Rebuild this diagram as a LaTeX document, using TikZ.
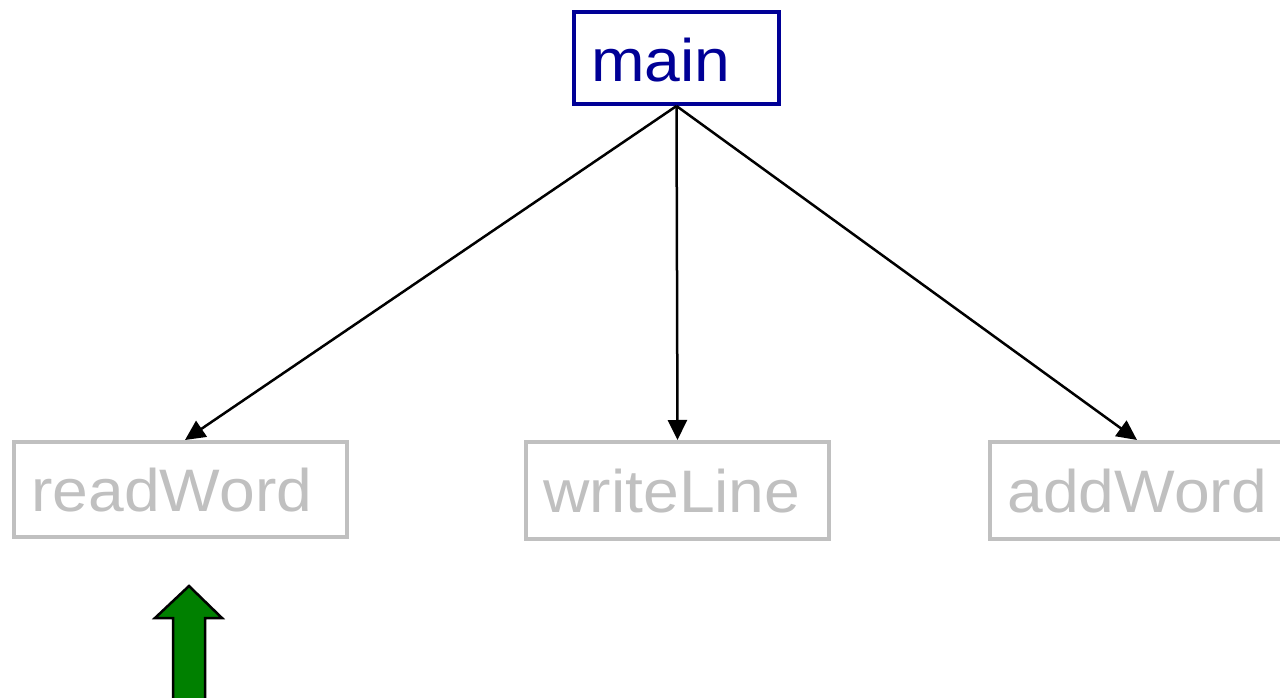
\documentclass[tikz,border=0pt]{standalone}
\usepackage{fontspec}
\newfontfamily\lab[FakeStretch=1.07]{Liberation Sans}
\usetikzlibrary{arrows.meta}
\definecolor{navyb}{RGB}{0,0,150}
\definecolor{boxgray}{RGB}{192,192,192}
\definecolor{arrgreen}{RGB}{0,128,0}
\begin{document}
\begin{tikzpicture}[x=1pt,y=-1pt,
  fbox/.style={draw=boxgray, text=boxgray, line width=4pt, inner xsep=17.5pt, inner ysep=0pt,
    text height=44pt, text depth=0pt, font=\lab\fontsize{60}{60}\selectfont},
  mbox/.style={fbox, draw=navyb, text=navyb, text height=48pt},
  conn/.style={draw=black, line width=2.5pt, -{Triangle[length=20pt,width=19pt]}},
  greenarrow/.style={fill=arrgreen, draw=black, line width=2.5pt, line join=miter}]
\useasboundingbox (0,0) rectangle (1280,698);
\clip (0,0) rectangle (1280,698);
\node[mbox, minimum height=92pt] (main) at (676.5,58) {\makebox[170pt][l]{main}};
\node[fbox, minimum height=95pt] (readWord) at (180.5,489.5) {\makebox[298pt][l]{readWord}};
\node[fbox, minimum height=97pt] (writeLine) at (677.5,490.5) {\makebox[268pt][l]{writeLine}};
\node[fbox, minimum height=97pt] (addWord) at (1137,490.5) {\makebox[259pt][l]{addWord}};
\draw[conn] (main.south) -- ([xshift=4.5pt]readWord.north);
\draw[conn] (main.south) -- (writeLine.north);
\draw[conn] (main.south) -- (addWord.north);
\filldraw[greenarrow] (189,586) -- (222,618) -- (205,618) -- (205,712) -- (173,712) -- (173,618) -- (155,618) -- cycle;
\end{tikzpicture}
\end{document}
